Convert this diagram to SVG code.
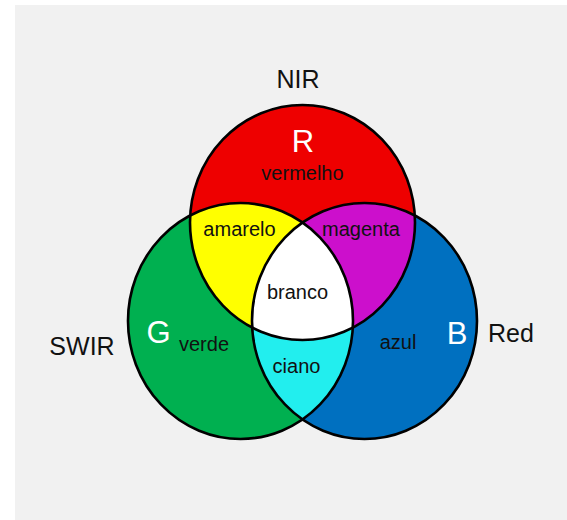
<svg xmlns="http://www.w3.org/2000/svg" width="567" height="520" viewBox="0 0 567 520">
<style>
.ring{fill:none;stroke:#000;stroke-width:2.6}
.lbl{font-family:"Liberation Sans",Arial,sans-serif;font-size:20px;fill:#111;text-anchor:middle}
.big{font-family:"Liberation Sans",Arial,sans-serif;font-size:25px;fill:#111;text-anchor:middle}
.let{font-family:"Liberation Sans",Arial,sans-serif;font-size:31px;fill:#fff;text-anchor:middle}
</style>
<defs>
<ellipse id="eR" cx="302.5" cy="222.5" rx="112.5" ry="117.5"/>
<ellipse id="eG" cx="240.5" cy="321" rx="112.5" ry="118"/>
<ellipse id="eB" cx="364.5" cy="321" rx="112.5" ry="118"/>
<clipPath id="cR"><use href="#eR"/></clipPath>
<clipPath id="cG"><use href="#eG"/></clipPath>
</defs>
<rect x="15" y="5" width="552" height="515" fill="#f1f1f1"/>
<g id="circle-green"><use href="#eG" fill="#00b050"/></g>
<g id="circle-blue"><use href="#eB" fill="#0070c0"/></g>
<g id="circle-red"><use href="#eR" fill="#ee0000"/></g>
<g id="region-yellow"><use href="#eG" fill="#ffff00" clip-path="url(#cR)"/></g>
<g id="region-magenta"><use href="#eB" fill="#cc0fcc" clip-path="url(#cR)"/></g>
<g id="region-cyan"><use href="#eB" fill="#22eeee" clip-path="url(#cG)"/></g>
<g id="region-white" clip-path="url(#cR)"><use href="#eB" fill="#ffffff" clip-path="url(#cG)"/></g>
<g id="outlines">
<use href="#eG" class="ring"/>
<use href="#eB" class="ring"/>
<use href="#eR" class="ring"/>
</g>
<g id="labels">
<text class="big" x="298" y="88">NIR</text>
<text class="big" x="82" y="355">SWIR</text>
<text class="big" x="511" y="342">Red</text>
<text class="let" x="303" y="152">R</text>
<text class="let" x="158.5" y="343">G</text>
<text class="let" x="457" y="344">B</text>
<text class="lbl" x="302.5" y="180">vermelho</text>
<text class="lbl" x="239.5" y="236">amarelo</text>
<text class="lbl" x="361" y="236">magenta</text>
<text class="lbl" x="297.5" y="299">branco</text>
<text class="lbl" x="204" y="351">verde</text>
<text class="lbl" x="296.5" y="373">ciano</text>
<text class="lbl" x="398" y="349">azul</text>
</g>
</svg>
